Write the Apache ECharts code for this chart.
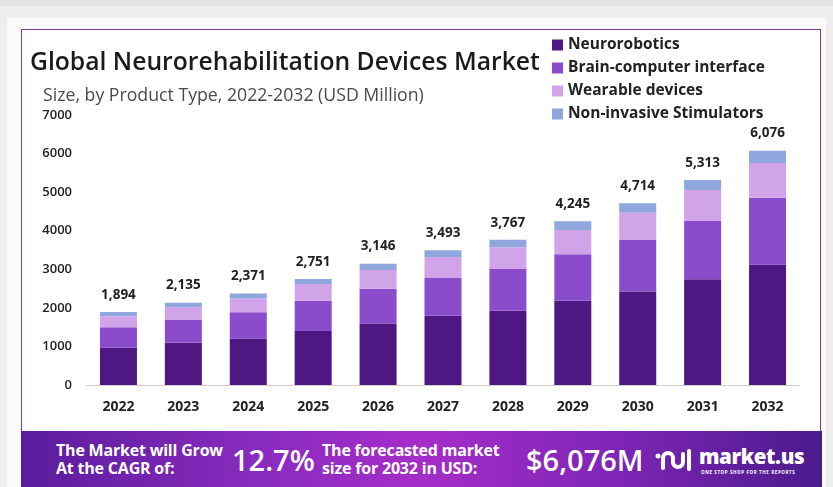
<!DOCTYPE html>
<html>
<head>
<meta charset="utf-8">
<script src="https://cdn.jsdelivr.net/npm/echarts@6/dist/echarts.min.js"></script>
<style>
  html, body { margin: 0; padding: 0; }
  body { width: 833px; height: 487px; background: #eeeeee; position: relative; overflow: hidden; font-family: 'Open Sans', sans-serif; }
  .topline { position: absolute; left: 0; top: 0; width: 833px; height: 6px; background: #e2e2e2; }
  .panel { position: absolute; left: 7px; top: 18px; width: 819px; height: 469px; background: #fafafa; }
  .card { position: absolute; left: 21px; top: 29px; width: 798px; height: 402px; background: #fff; border: 1.5px solid #7a3d94; border-bottom: none; }
  #main { position: absolute; left: 0; top: 0; width: 833px; height: 487px; }
  .banner { position: absolute; left: 21px; top: 431px; width: 801px; height: 56px;
    background: linear-gradient(90deg, #5a1c9c 0%, #8a2bbf 30%, #a52dc8 50%, #7d25b5 75%, #4b1a8c 100%); color: #fff; }
  .banner div, .banner svg { position: absolute; white-space: nowrap; }
  .small { font-weight: 700; font-size: 16px; line-height: 18px; letter-spacing: -0.2px; }
  .big { font-weight: 600; font-size: 29px; line-height: 34px; }
  .logo { font-weight: 800; font-size: 20.5px; letter-spacing: -0.4px; }
  .tag { font-size: 4.5px; font-weight: 700; letter-spacing: 0.6px; }
</style>
</head>
<body>
<div class="topline"></div>
<div class="panel"></div>
<div class="card"></div>
<div id="main"></div>
<div class="banner">
  <div class="small" style="left:35px; top:10px;">The Market will Grow<br>At the CAGR of:</div>
  <div class="big" style="left:211px; top:12px;">12.7%</div>
  <div class="small" style="left:301px; top:10px;">The forecasted market<br>size for 2032 in USD:</div>
  <div class="big" style="left:505px; top:12px;">$6,076M</div>
  <svg style="left:634px; top:17px;" width="38" height="24" viewBox="0 0 38 24">
    <circle cx="3" cy="8" r="2.5" fill="#fff"/>
    <path d="M8 20 V10 a5 5 0 0 1 10 0 V14" stroke="#fff" stroke-width="4" fill="none" stroke-linecap="round"/>
    <path d="M18 10 V14 a5 5 0 0 0 10 0 V6" stroke="#fff" stroke-width="4" fill="none" stroke-linecap="round"/>
    <path d="M34 3 V21" stroke="#fff" stroke-width="4" stroke-linecap="round"/>
  </svg>
  <div class="logo" style="left:678px; top:11px;">market.us</div>
  <div class="tag" style="left:680px; top:38px;">ONE STOP SHOP FOR THE REPORTS</div>
</div>
<script>
const years = ['2022', '2023', '2024', '2025', '2026', '2027', '2028', '2029', '2030', '2031', '2032'];
const neurorobotics = [964, 1094, 1206, 1400, 1594, 1795, 1926, 2183, 2425, 2740, 3125];
const brainComputer = [534, 604, 682, 785, 900, 994, 1081, 1208, 1344, 1511, 1730];
const wearable = [285, 319, 355, 436, 490, 530, 563, 628, 697, 804, 902];
const nonInvasive = [111, 118, 128, 130, 162, 174, 197, 226, 248, 258, 319];
const totals = [1894, 2135, 2371, 2751, 3146, 3493, 3767, 4245, 4714, 5313, 6076];
const yTicks = [0, 1000, 2000, 3000, 4000, 5000, 6000, 7000];

const font = "'Open Sans', sans-serif";
const colors = ['#4f1782', '#8a4ccb', '#d1a4ea', '#8fa7dc'];

const myChart = echarts.init(document.getElementById('main'));

function stack(name, data, color, isTop) {
  const s = {
    name: name,
    type: 'bar',
    stack: 'total',
    data: data,
    barWidth: 37,
    itemStyle: { color: color },
  };
  if (isTop) {
    s.label = {
      show: true,
      position: 'top',
      distance: 10,
      formatter: (p) => totals[p.dataIndex].toLocaleString('en-US'),
      color: '#222',
      fontFamily: font,
      fontWeight: 700,
      fontSize: 13.5,
    };
  }
  return s;
}

myChart.setOption({
  title: [
    {
      text: 'Global Neurorehabilitation Devices Market',
      left: 25,
      top: 45,
      textStyle: { fontFamily: font, fontWeight: 600, fontSize: 24.7, color: '#1a1a1a' },
    },
    {
      text: 'Size, by Product Type, 2022-2032 (USD Million)',
      left: 38,
      top: 82,
      textStyle: { fontFamily: font, fontWeight: 400, fontSize: 17.7, color: '#4a4a4a' },
    },
  ],
  legend: {
    orient: 'vertical',
    left: 547,
    top: 32,
    itemWidth: 11,
    itemHeight: 11,
    itemGap: 7,
    icon: 'rect',
    textStyle: { fontFamily: font, fontWeight: 700, fontSize: 15.5, color: '#222' },
    data: ['Neurorobotics', 'Brain-computer interface', 'Wearable devices', 'Non-invasive Stimulators'],
  },
  grid: { left: 86, right: 33, top: 115, bottom: 102 },
  xAxis: {
    type: 'category',
    data: years,
    axisLine: { lineStyle: { color: '#cfcfcf' } },
    axisTick: { show: false },
    axisLabel: { margin: 15, color: '#222', fontFamily: font, fontWeight: 700, fontSize: 14 },
  },
  yAxis: {
    type: 'value',
    min: yTicks[0],
    max: yTicks[yTicks.length - 1],
    interval: 1000,
    splitLine: { show: false },
    axisLabel: { margin: 14, color: '#222', fontFamily: font, fontWeight: 600, fontSize: 13, formatter: (v) => String(v) },
  },
  series: [
    stack('Neurorobotics', neurorobotics, colors[0]),
    stack('Brain-computer interface', brainComputer, colors[1]),
    stack('Wearable devices', wearable, colors[2]),
    stack('Non-invasive Stimulators', nonInvasive, colors[3], true),
  ],
});
</script>
</body>
</html>
